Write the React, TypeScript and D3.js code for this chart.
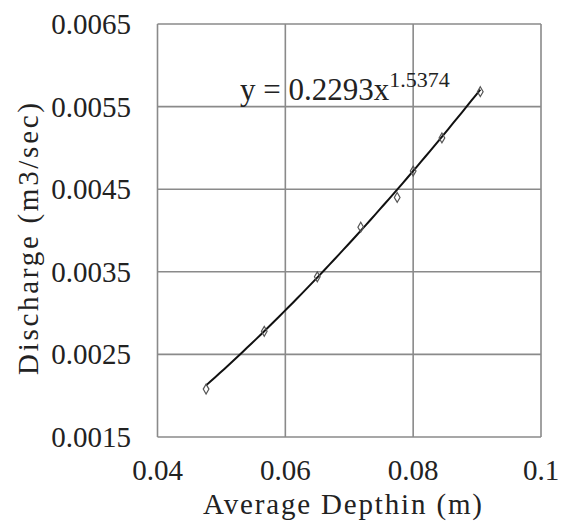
import React from "react";
import * as d3 from "d3";

const depth = [0.0476, 0.0567, 0.065, 0.0718, 0.0775, 0.08, 0.0845, 0.0905];
const discharge = [0.00208, 0.00278, 0.00344, 0.00404, 0.0044, 0.00472, 0.00512, 0.00568];
const xTicks = [0.04, 0.06, 0.08, 0.1];
const yTicks = [0.0015, 0.0025, 0.0035, 0.0045, 0.0055, 0.0065];
const xTickLabels = ["0.04", "0.06", "0.08", "0.1"];
const yTickLabels = ["0.0015", "0.0025", "0.0035", "0.0045", "0.0055", "0.0065"];
const coefA = 0.2293;
const expB = 1.5374;

export default function App() {
  const W = 564, H = 522;
  const left = 157.5, right = 541, top = 24, bottom = 437;
  const x = d3.scaleLinear().domain([0.04, 0.1]).range([left, right]);
  const y = d3.scaleLinear().domain([0.0015, 0.0065]).range([bottom, top]);
  const font = "Liberation Serif, DejaVu Serif, Times New Roman, serif";
  const tstyle = { fontFamily: font };
  const grid = "#8a8a8a";

  const x0 = d3.min(depth)!, x1 = d3.max(depth)!;
  const fitPts = d3.range(0, 61).map(i => {
    const xv = x0 + (x1 - x0) * i / 60;
    return [xv, coefA * Math.pow(xv, expB)] as [number, number];
  });
  const line = d3.line<[number, number]>().x(d => x(d[0])).y(d => y(d[1]));
  const diamond = d3.symbol().type(d3.symbolDiamond).size(28)();

  return (
    <svg width={W} height={H} style={{ position: "absolute", left: 0, top: 0, background: "#fff" }}>
      <rect x={0} y={0} width={W} height={H} fill="#fff" />
      {xTicks.map(t => (
        <line key={"gx" + t} x1={x(t)} x2={x(t)} y1={top} y2={bottom} stroke={grid} strokeWidth={1.6} />
      ))}
      {yTicks.map(t => (
        <line key={"gy" + t} x1={left} x2={right} y1={y(t)} y2={y(t)} stroke={grid} strokeWidth={1.6} />
      ))}
      {yTicks.map((t, i) => (
        <text key={"ty" + t} x={131} y={y(t) + 10} textAnchor="end" style={tstyle} fontSize={29} fill="#222">
          {yTickLabels[i]}
        </text>
      ))}
      {xTicks.map((t, i) => (
        <text key={"tx" + t} x={x(t)} y={480} textAnchor="middle" style={tstyle} fontSize={29} fill="#222">
          {xTickLabels[i]}
        </text>
      ))}
      <text x={203} y={514} style={tstyle} fontSize={29} fill="#222" textLength={279} lengthAdjust="spacing">
        Average Depthin (m)
      </text>
      <text transform="translate(38,375) rotate(-90)" style={tstyle} fontSize={29} fill="#222" textLength={272} lengthAdjust="spacing">
        Discharge (m3/sec)
      </text>
      <path d={line(fitPts) || ""} fill="none" stroke="#111" strokeWidth={2} />
      {depth.map((d, i) => (
        <path key={"p" + i} d={diamond} transform={`translate(${x(d)},${y(discharge[i])})`} fill="none" stroke="#555" strokeWidth={1.2} />
      ))}
      <text x={240} y={100} style={tstyle} fontSize={31} fill="#222">
        y = {coefA}x
        <tspan fontSize={22} dy={-13}>{expB}</tspan>
      </text>
    </svg>
  );
}
